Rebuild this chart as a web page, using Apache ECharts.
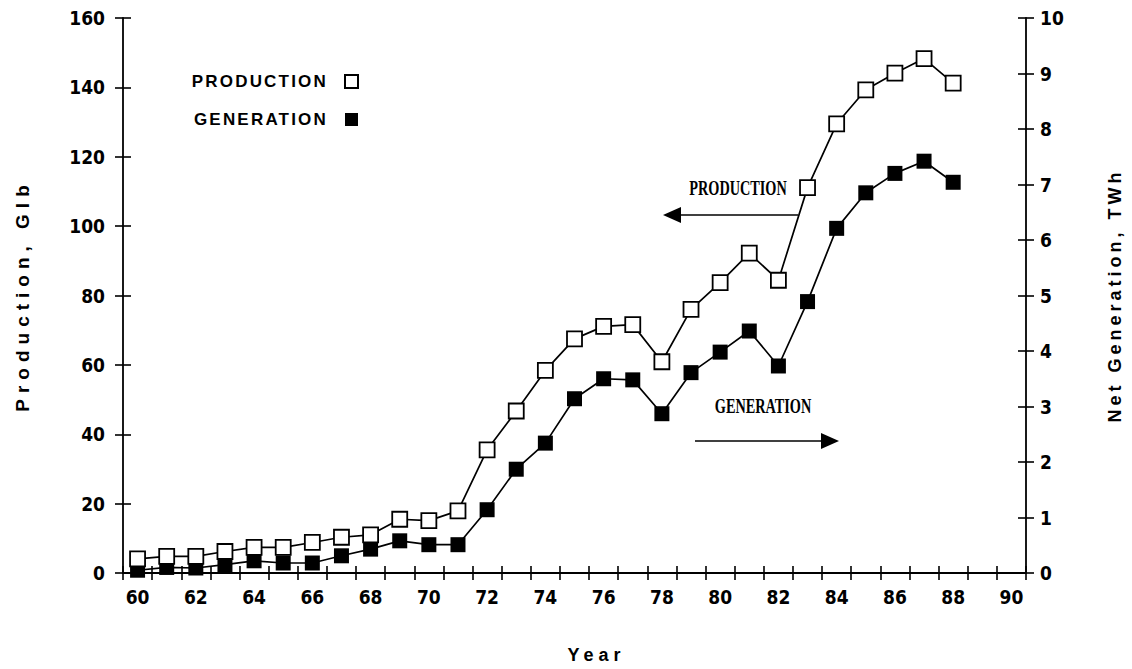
<!DOCTYPE html>
<html>
<head>
<meta charset="utf-8">
<script src="https://cdn.jsdelivr.net/npm/echarts@6/dist/echarts.min.js"></script>
<style>
  html, body { margin: 0; padding: 0; background: #ffffff; }
  #chart { width: 1132px; height: 669px; }
</style>
</head>
<body>
<div id="chart"></div>
<script>
// Years on the horizontal axis (19xx)
const years = ['60','61','62','63','64','65','66','67','68','69','70','71','72','73','74','75',
               '76','77','78','79','80','81','82','83','84','85','86','87','88','89','90'];

// Production, Glb (left axis)
const production = [4.1, 4.8, 4.8, 6.2, 7.4, 7.4, 8.8, 10.3, 11.0, 15.5, 15.1, 17.9,
                    35.5, 46.7, 58.4, 67.5, 71.1, 71.6, 60.9, 76.0, 83.7, 92.2, 84.4,
                    111.1, 129.5, 139.3, 144.1, 148.3, 141.2];

// Net generation, TWh (right axis)
const generation = [0.05, 0.10, 0.09, 0.15, 0.22, 0.18, 0.18, 0.31, 0.43, 0.58, 0.51, 0.51,
                    1.14, 1.87, 2.34, 3.14, 3.50, 3.48, 2.87, 3.61, 3.98, 4.36, 3.73,
                    4.89, 6.21, 6.85, 7.20, 7.42, 7.04];

// Axis ranges
const leftAxis = { min: 0, max: 160, interval: 20 };
const rightAxis = { min: 0, max: 10, interval: 1 };

const tickFont = "'Liberation Sans Narrow', 'DejaVu Sans Condensed', 'Liberation Sans', sans-serif";
const wideFont = "'Liberation Sans', Arial, sans-serif";
const noteFont = "'Liberation Serif', 'Times New Roman', serif";

const ink = '#000000';
const axisLine = { show: true, lineStyle: { color: ink, width: 1.8 } };
const tickStyle = { color: ink, width: 1.6 };
const tickLabel = { color: ink, fontFamily: tickFont, fontWeight: 'bold', fontSize: 19 };

const chart = echarts.init(document.getElementById('chart'), null, { renderer: 'svg' });

chart.setOption({
  animation: false,
  backgroundColor: '#ffffff',
  grid: { left: 123, right: 99, top: 18, bottom: 93, containLabel: false },
  legend: {
    data: ['PRODUCTION', 'GENERATION'],
    orient: 'vertical',
    left: 205,
    top: 68,
    align: 'right',
    itemGap: 21,
    icon: 'rect',
    itemWidth: 13,
    itemHeight: 13,
    selectedMode: false,
    textStyle: {
      color: ink, fontFamily: wideFont, fontWeight: 'bold', fontSize: 17,
      lineHeight: 17, width: 118, padding: [0, 12, 0, 0]
    }
  },
  xAxis: [
    {
      type: 'category',
      data: years,
      boundaryGap: true,
      position: 'bottom',
      axisLine: axisLine,
      axisTick: { show: true, interval: 0, length: 7, inside: false, lineStyle: tickStyle },
      axisLabel: Object.assign({ interval: 1, margin: 14 }, tickLabel),
      splitLine: { show: false },
      name: 'Year',
      nameLocation: 'middle',
      nameGap: 73,
      nameTextStyle: { color: ink, fontFamily: wideFont, fontWeight: 'bold', fontSize: 18, padding: [0, 0, 0, 44] }
    },
    {
      // upward half of the crossing ticks
      type: 'category',
      data: years,
      boundaryGap: true,
      position: 'bottom',
      axisLine: { show: false },
      axisTick: { show: true, interval: 0, length: 7, inside: true, lineStyle: tickStyle },
      axisLabel: { show: false },
      splitLine: { show: false }
    }
  ],
  yAxis: [
    {
      type: 'value',
      position: 'left',
      min: leftAxis.min, max: leftAxis.max, interval: leftAxis.interval,
      axisLine: axisLine,
      axisTick: { show: true, length: 8, inside: false, lineStyle: tickStyle },
      axisLabel: Object.assign({ margin: 18 }, tickLabel),
      splitLine: { show: false },
      name: 'Production, Glb',
      nameLocation: 'middle',
      nameRotate: 90,
      nameGap: 91,
      nameTextStyle: { color: ink, fontFamily: wideFont, fontWeight: 'bold', fontSize: 19 }
    },
    {
      type: 'value',
      position: 'right',
      min: rightAxis.min, max: rightAxis.max, interval: rightAxis.interval,
      axisLine: axisLine,
      axisTick: { show: true, length: 8, inside: false, lineStyle: tickStyle },
      axisLabel: Object.assign({ margin: 14 }, tickLabel),
      splitLine: { show: false },
      name: 'Net Generation, TWh',
      nameLocation: 'middle',
      nameRotate: 90,
      nameGap: 80,
      nameTextStyle: { color: ink, fontFamily: wideFont, fontWeight: 'bold', fontSize: 18 }
    },
    {
      // inner half of the left crossing ticks
      type: 'value',
      position: 'left',
      min: leftAxis.min, max: leftAxis.max, interval: leftAxis.interval,
      axisLine: { show: false },
      axisTick: { show: true, length: 8, inside: true, lineStyle: tickStyle },
      axisLabel: { show: false },
      splitLine: { show: false }
    },
    {
      // inner half of the right crossing ticks
      type: 'value',
      position: 'right',
      min: rightAxis.min, max: rightAxis.max, interval: rightAxis.interval,
      axisLine: { show: false },
      axisTick: { show: true, length: 8, inside: true, lineStyle: tickStyle },
      axisLabel: { show: false },
      splitLine: { show: false }
    }
  ],
  series: [
    {
      name: 'GENERATION',
      type: 'line',
      xAxisIndex: 0,
      yAxisIndex: 1,
      data: generation,
      symbol: 'rect',
      symbolSize: 15,
      lineStyle: { color: ink, width: 1.7 },
      itemStyle: { color: ink, borderColor: ink, borderWidth: 0 },
      z: 2
    },
    {
      name: 'PRODUCTION',
      type: 'line',
      xAxisIndex: 0,
      yAxisIndex: 0,
      data: production,
      symbol: 'rect',
      symbolSize: 15,
      lineStyle: { color: ink, width: 1.7 },
      itemStyle: { color: '#ffffff', borderColor: ink, borderWidth: 1.8 },
      z: 3
    }
  ],
  graphic: [
    {
      type: 'text', x: 738, y: 188, scaleX: 0.68,
      style: { text: 'PRODUCTION', font: 'bold 21px ' + noteFont, fill: ink, align: 'center', verticalAlign: 'middle' }
    },
    { type: 'line', shape: { x1: 798, y1: 215, x2: 679, y2: 215 }, style: { stroke: ink, lineWidth: 1.6 } },
    { type: 'polygon', shape: { points: [[663, 215], [681, 207], [681, 223]] }, style: { fill: ink } },
    {
      type: 'text', x: 763, y: 406, scaleX: 0.68,
      style: { text: 'GENERATION', font: 'bold 21px ' + noteFont, fill: ink, align: 'center', verticalAlign: 'middle' }
    },
    { type: 'line', shape: { x1: 695, y1: 441, x2: 823, y2: 441 }, style: { stroke: ink, lineWidth: 1.6 } },
    { type: 'polygon', shape: { points: [[839, 441], [821, 433], [821, 449]] }, style: { fill: ink } }
  ]
});

// Tracked lettering for the axis titles and legend entries
const tracking = {
  'Production, Glb': 6,
  'Net Generation, TWh': 4,
  'Year': 5,
  'PRODUCTION': 2.2,
  'GENERATION': 2.2
};
chart.getDom().querySelectorAll('text').forEach(function (t) {
  const s = (t.getAttribute('style') || '') + ' ' + (t.getAttribute('font-family') || '');
  const key = t.textContent;
  if (Object.prototype.hasOwnProperty.call(tracking, key) && !/Serif/.test(s)) {
    t.style.letterSpacing = tracking[key] + 'px';
  }
});
</script>
</body>
</html>
